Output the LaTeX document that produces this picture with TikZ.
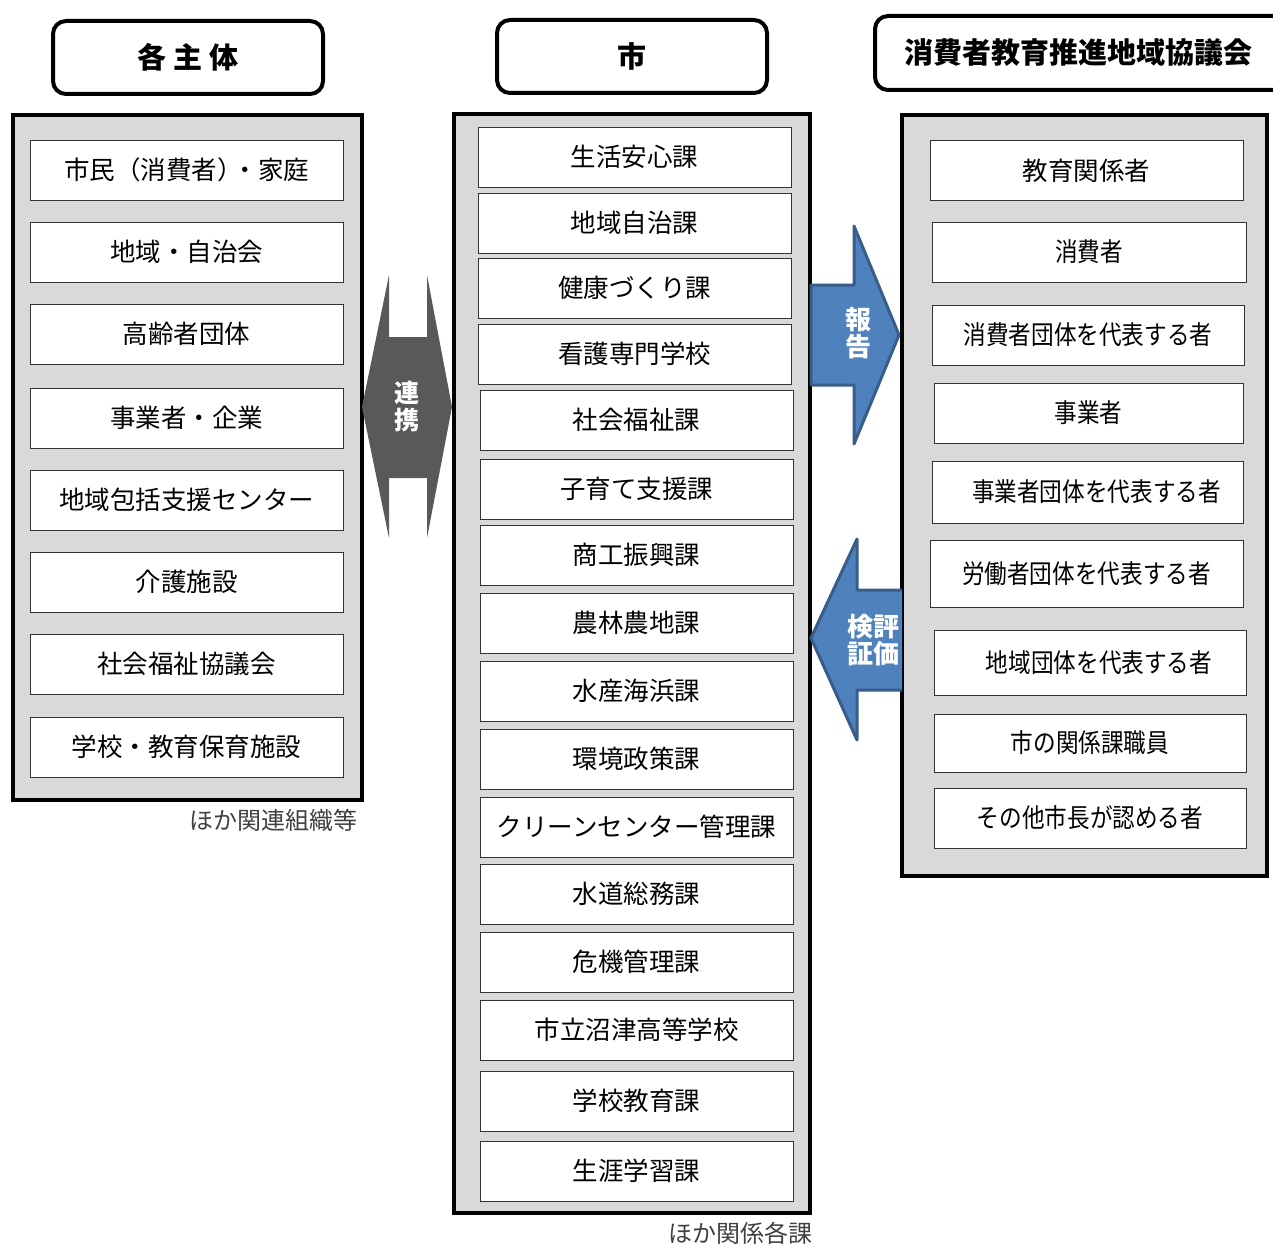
\documentclass[tikz,border=0pt]{standalone}
\usepackage{fontspec}
\setmainfont{Noto Sans CJK JP}
\newfontfamily\condfont[FakeStretch=0.87]{Noto Sans CJK JP}
\definecolor{panelgray}{HTML}{D9D9D9}
\definecolor{arrowblue}{HTML}{4F81BD}
\definecolor{arrowedge}{HTML}{385D8A}
\definecolor{arrowgray}{HTML}{595959}
\definecolor{notegray}{HTML}{404040}
\tikzset{
  panel/.style={draw=black, line width=4.5pt, fill=panelgray},
  hdr/.style={draw=black, line width=4pt, rounded corners=13pt, fill=white, font=\fontsize{29}{32}\selectfont\bfseries, inner sep=0pt},
  ibox/.style={draw=black!80, line width=1pt, fill=white, minimum width=313pt, minimum height=60pt, inner sep=0pt, font=\fontsize{25.5}{28}\selectfont},
  rbox/.style={ibox, font=\condfont\fontsize{26}{28}\selectfont},
  note/.style={text=notegray, font=\fontsize{24}{26}\selectfont, inner sep=0pt},
  alabel/.style={text=white, font=\fontsize{26}{27}\selectfont\bfseries, align=center, inner sep=0pt},
}
\begin{document}
\begin{tikzpicture}[x=1pt,y=-1pt]
\useasboundingbox (0,0) rectangle (1273,1244);
\clip (0,0) rectangle (1273,1244);

% headers
\node[hdr, minimum width=270pt, minimum height=73pt] (hleft) at (188,57.5) {各\kern7pt 主\kern7pt 体};
\node[hdr, minimum width=270pt, minimum height=73pt] (hmid) at (632,56.5) {市};
\draw[line width=4pt, rounded corners=13pt, fill=white] (875,16) rectangle (1300,90);
\node[font=\fontsize{29}{32}\selectfont\bfseries, inner sep=0pt] (hright) at (1078,53) {消費者教育推進地域協議会};

% panels
\draw[panel] (13,115) rectangle (362,800);
\draw[panel] (454,114) rectangle (810,1213);
\draw[panel] (902,115) rectangle (1267,876);

% left boxes
\node[ibox] (l1) at (186.5,170) {市民（消費者）\kern-10pt・家庭};
\node[ibox] (l2) at (186.5,252) {地域・自治会};
\node[ibox] (l3) at (186.5,334) {高齢者団体};
\node[ibox] (l4) at (186.5,418) {事業者・企業};
\node[ibox] (l5) at (186.5,500) {地域包括支援センター};
\node[ibox] (l6) at (186.5,582) {介護施設};
\node[ibox] (l7) at (186.5,664) {社会福祉協議会};
\node[ibox] (l8) at (186.5,747) {学校・教育保育施設};
\node[note, anchor=east] (nleft) at (358,820) {ほか関連組織等};

% middle boxes
\node[ibox] (m1) at (634.5,157) {生活安心課};
\node[ibox] (m2) at (634.5,223) {地域自治課};
\node[ibox] (m3) at (634.5,288) {健康づくり課};
\node[ibox] (m4) at (634.5,354) {看護専門学校};
\node[ibox] (m5) at (636.5,420) {社会福祉課};
\node[ibox] (m6) at (636.5,489) {子育て支援課};
\node[ibox] (m7) at (636.5,555) {商工振興課};
\node[ibox] (m8) at (636.5,623) {農林農地課};
\node[ibox] (m9) at (636.5,691) {水産海浜課};
\node[ibox] (m10) at (636.5,759) {環境政策課};
\node[ibox] (m11) at (636.5,827) {クリーンセンター管理課};
\node[ibox] (m12) at (636.5,894) {水道総務課};
\node[ibox] (m13) at (636.5,962) {危機管理課};
\node[ibox] (m14) at (636.5,1030) {市立沼津高等学校};
\node[ibox] (m15) at (636.5,1101) {学校教育課};
\node[ibox] (m16) at (636.5,1171) {生涯学習課};
\node[note, anchor=east] (nmid) at (813,1233) {ほか関係各課};

% right boxes
\node[ibox] (r1) at (1086.5,170.5) {教育関係者};
\node[rbox, minimum width=314pt] (r2) at (1089,252) {消費者};
\node[rbox, minimum width=312pt] (r3) at (1088,335) {消費者団体を代表する者};
\node[rbox, minimum width=309pt] (r4) at (1088.5,413) {事業者};
\node[rbox, minimum width=311pt, minimum height=62pt] (r5) at (1087.5,492) {\hspace*{18pt}事業者団体を代表する者};
\node[rbox, minimum height=67pt] (r6) at (1086.5,573.5) {労働者団体を代表する者};
\node[rbox, minimum width=312pt, minimum height=65pt] (r7) at (1090,662.5) {\hspace*{18pt}地域団体を代表する者};
\node[rbox, minimum width=312pt, minimum height=58pt] (r8) at (1090,743) {市の関係課職員};
\node[rbox, minimum width=312pt] (r9) at (1090,818) {その他市長が認める者};

% renkei double arrow
\fill[arrowgray] (362,407) -- (389,275) -- (389,337) -- (427,337) -- (427,275) -- (452,407)
  -- (427,538) -- (427,478) -- (389,478) -- (389,538) -- cycle;
\node[alabel, font=\fontsize{25}{27}\selectfont\bfseries] (trenkei) at (407,407) {連\\携};

% houkoku arrow
\filldraw[fill=arrowblue, draw=arrowedge, line width=3pt, line join=round]
  (811,285) -- (854,285) -- (854,226) -- (899,335) -- (854,444) -- (854,385) -- (811,385) -- cycle;
\node[alabel] (thoukoku) at (858,333) {報\\告};

% kensho arrow
\filldraw[fill=arrowblue, draw=arrowedge, line width=3pt, line join=round]
  (902,590) -- (857,590) -- (857,539) -- (811,638) -- (857,740) -- (857,690) -- (902,690);
\node[alabel] (tkensho) at (873,640) {検評\\証価};
\end{tikzpicture}
\end{document}
